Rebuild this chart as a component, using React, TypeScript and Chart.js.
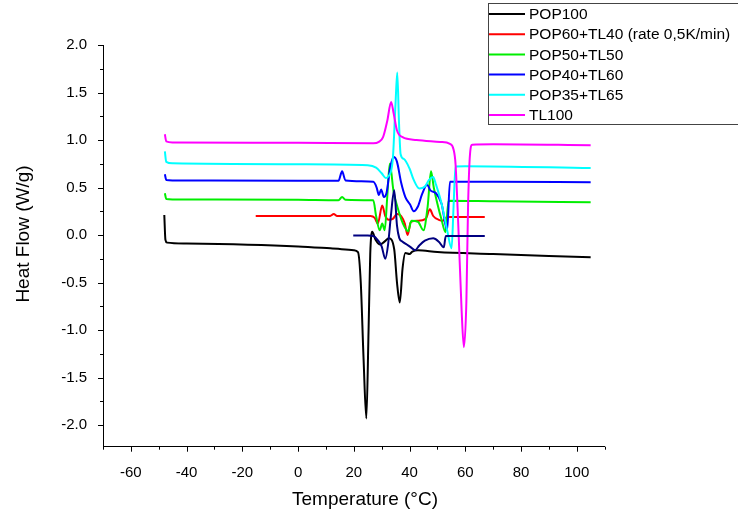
import React, { useEffect, useRef } from "react";
import { Chart, registerables } from "chart.js";

Chart.register(...registerables);

// ---- Data (temperature °C, heat flow W/g) ----
const POP100: [number, number][] = [
  [-48, 0.21], [-47.6, -0.05], [-47, -0.08], [-40, -0.09], [0, -0.12], [11.6, -0.14],
  [20, -0.16], [21.5, -0.18], [22.5, -0.5], [23.5, -1.3], [24.5, -1.93], [25.3, -1.0],
  [25.9, -0.2], [26.6, 0.035], [27.8, -0.05], [29.5, -0.1], [31, -0.07], [32.6, -0.035],
  [34.5, -0.15], [35.5, -0.5], [36.5, -0.71], [37.5, -0.35], [38.5, -0.19], [40, -0.2],
  [41, -0.175], [43, -0.16], [50, -0.18], [70, -0.2], [90, -0.22], [105, -0.235],
];
const POP60_TL40: [number, number][] = [
  [-15.2, 0.2], [0, 0.2], [11.5, 0.2], [12.8, 0.22], [14, 0.2], [26, 0.2], [27.5, 0.18],
  [28.6, 0.12], [30.2, 0.31], [31.3, 0.2], [32.5, 0.16], [34, 0.17], [35.5, 0.22], [37, 0.2],
  [38.3, 0.12], [39.3, 0.0], [40.5, 0.14], [43, 0.15], [45.8, 0.17], [47.3, 0.27], [48.5, 0.2],
  [50.5, 0.16], [52, 0.15], [53.5, 0.19], [67, 0.19],
];
const POP50_TL50: [number, number][] = [
  [-47.8, 0.44], [-47.3, 0.38], [-45, 0.375], [0, 0.37], [14.5, 0.365], [15.8, 0.4], [17, 0.37],
  [27, 0.365], [28, 0.2], [29.3, 0.05], [30.2, 0.12], [31.1, 0.05], [32, 0.4], [32.9, 0.75],
  [34.3, 0.45], [35.6, 0.3], [37.5, 0.13], [39.5, 0.04], [40.7, 0.15], [43, 0.14], [45, 0.05],
  [46.5, 0.3], [47.7, 0.67], [48.7, 0.5], [50, 0.33], [51.5, 0.16], [52.9, 0.03], [54, 0.36],
  [70, 0.355], [105, 0.345],
];
const POP40_TL60: [number, number][] = [
  [-47.8, 0.64], [-47.3, 0.58], [-45, 0.575], [0, 0.57], [14.5, 0.57], [15.8, 0.67], [17, 0.575],
  [27, 0.56], [28.2, 0.5], [29, 0.42], [29.8, 0.48], [30.8, 0.4], [31.8, 0.45], [33, 0.7],
  [34.3, 0.82], [35.5, 0.77], [37, 0.55], [38.5, 0.4], [40.2, 0.32], [41.5, 0.25], [43, 0.3],
  [44.5, 0.43], [46.3, 0.53], [47.5, 0.47], [49.5, 0.44], [51.5, 0.33], [53.5, 0.05], [54.5, 0.56],
  [70, 0.56], [105, 0.555],
];
const POP35_TL65: [number, number][] = [
  [-47.8, 0.88], [-47.3, 0.77], [-45, 0.755], [0, 0.745], [25, 0.735], [28, 0.71], [30, 0.65],
  [31.5, 0.6], [32.5, 0.62], [34, 0.8], [35, 1.4], [35.6, 1.71], [36.2, 1.2], [36.8, 0.85],
  [38, 0.8], [40, 0.7], [41.5, 0.58], [43.5, 0.49], [45.5, 0.51], [47, 0.58], [48.5, 0.61],
  [49.5, 0.53], [51.5, 0.33], [53.5, 0.05], [55.1, -0.14], [55.8, 0.3], [56.5, 0.72], [60, 0.725],
  [105, 0.705],
];
const TL100: [number, number][] = [
  [-47.8, 1.06], [-47.3, 0.985], [-45, 0.975], [0, 0.97], [27, 0.965], [29, 0.98], [30.5, 1.03],
  [32, 1.2], [33.4, 1.4], [34.3, 1.28], [35.5, 1.1], [37.5, 1.03], [42.5, 1.0], [51, 0.98],
  [54.5, 0.96], [55.8, 0.9], [56.5, 0.75], [57.5, 0.1], [58.7, -0.8], [59.5, -1.18], [60.4, -0.7],
  [61, 0.3], [61.7, 0.85], [62.5, 0.95], [70, 0.955], [105, 0.945],
];
const EXTRA_NAVY: [number, number][] = [
  [19.8, -0.005], [25, -0.005], [27, -0.01], [28.5, -0.05], [30, -0.12], [31.3, -0.25],
  [32.3, -0.1], [33.3, 0.2], [34.5, 0.47], [35.5, 0.1], [36.3, -0.03], [37.5, -0.07], [39, -0.1],
  [40.5, -0.13], [42, -0.16], [43.5, -0.11], [45.5, -0.06], [48.5, -0.035], [50.5, -0.07],
  [52.3, -0.13], [53, -0.01], [67, -0.01],
];

const SERIES = [POP100, POP60_TL40, POP50_TL50, POP40_TL60, POP35_TL65, TL100];
const SERIES_NAMES = [
  "POP100",
  "POP60+TL40 (rate 0,5K/min)",
  "POP50+TL50",
  "POP40+TL60",
  "POP35+TL65",
  "TL100",
];
const SERIES_COLORS = ["#000000", "#ff0000", "#00ee00", "#0000ff", "#00ffff", "#ff00ff"];
const EXTRA_COLOR = "#000080";

const X_MAJOR = [-60, -40, -20, 0, 20, 40, 60, 80, 100];
const X_MINOR = [-70, -50, -30, -10, 10, 30, 50, 70, 90, 110];
const Y_MAJOR = [-2.0, -1.5, -1.0, -0.5, 0.0, 0.5, 1.0, 1.5, 2.0];
const Y_MINOR = [-1.75, -1.25, -0.75, -0.25, 0.25, 0.75, 1.25, 1.75];

const X_TITLE = "Temperature (°C)";
const Y_TITLE = "Heat Flow (W/g)";

const FONT = "'Liberation Sans', Arial, sans-serif";

export default function App() {
  const ref = useRef<HTMLCanvasElement | null>(null);

  useEffect(() => {
    const canvas = ref.current;
    if (!canvas) return;

    const decor = {
      id: "decor",
      afterDraw(chart: any) {
        const ctx = chart.ctx as CanvasRenderingContext2D;
        const xs = chart.scales.x;
        const ys = chart.scales.y;
        const area = chart.chartArea;
        ctx.save();
        ctx.strokeStyle = "#000";
        ctx.lineWidth = 1;
        // ticks
        const drawX = (vals: number[], len: number) => {
          vals.forEach((v) => {
            const px = Math.round(xs.getPixelForValue(v)) + 0.5;
            ctx.beginPath();
            ctx.moveTo(px, area.bottom);
            ctx.lineTo(px, area.bottom + len);
            ctx.stroke();
          });
        };
        const drawY = (vals: number[], len: number) => {
          vals.forEach((v) => {
            const py = Math.round(ys.getPixelForValue(v)) + 0.5;
            ctx.beginPath();
            ctx.moveTo(area.left, py);
            ctx.lineTo(area.left - len, py);
            ctx.stroke();
          });
        };
        drawX(X_MAJOR, 5);
        drawX(X_MINOR, 3);
        drawY(Y_MAJOR, 5);
        drawY(Y_MINOR, 3);

        // axis titles
        ctx.fillStyle = "#000";
        ctx.font = `19px ${FONT}`;
        ctx.textAlign = "center";
        ctx.textBaseline = "middle";
        ctx.fillText(X_TITLE, 365, 500);
        ctx.save();
        ctx.translate(24, 234);
        ctx.rotate(-Math.PI / 2);
        ctx.fillText(Y_TITLE, 0, 0);
        ctx.restore();

        // legend
        const lx = 488.5;
        const ly = 3.5;
        ctx.strokeStyle = "#444";
        ctx.lineWidth = 1;
        ctx.strokeRect(lx, ly, 270, 121);
        ctx.font = `15.5px ${FONT}`;
        ctx.textAlign = "left";
        SERIES_NAMES.forEach((name, i) => {
          const y = 14 + i * 20.2;
          ctx.strokeStyle = SERIES_COLORS[i];
          ctx.lineWidth = 2;
          ctx.beginPath();
          ctx.moveTo(489, y);
          ctx.lineTo(525, y);
          ctx.stroke();
          ctx.fillStyle = "#000";
          ctx.fillText(name, 529, y + 1);
        });
        ctx.restore();
      },
    };

    const mk = (arr: [number, number][], color: string, label: string) => ({
      label,
      data: arr.map(([x, y]) => ({ x, y })),
      borderColor: color,
      backgroundColor: color,
      borderWidth: 2,
      pointRadius: 0,
      showLine: true,
      cubicInterpolationMode: "monotone" as const,
    });

    const datasets = [
      mk(EXTRA_NAVY, EXTRA_COLOR, ""),
      ...SERIES.map((s, i) => mk(s, SERIES_COLORS[i], SERIES_NAMES[i])).reverse(),
    ];

    const chart = new Chart(canvas, {
      type: "scatter",
      data: { datasets },
      options: {
        animation: false,
        responsive: false,
        events: [],
        layout: { padding: { left: 0, right: 133.4, top: 45, bottom: 0 } },
        plugins: { legend: { display: false }, tooltip: { enabled: false } },
        scales: {
          x: {
            type: "linear",
            min: -70,
            max: 110,
            afterBuildTicks: (s: any) => {
              s.ticks = X_MAJOR.map((v) => ({ value: v }));
            },
            afterFit: (s: any) => {
              s.height = 71.3;
            },
            grid: { display: false },
            border: { display: true, color: "#000", width: 1 },
            ticks: {
              autoSkip: false,
              maxRotation: 0,
              padding: 9,
              color: "#000",
              font: { family: FONT, size: 15 },
              callback: (v: any) => String(v),
            },
          },
          y: {
            type: "linear",
            min: -2.228,
            max: 2.0,
            afterBuildTicks: (s: any) => {
              s.ticks = Y_MAJOR.map((v) => ({ value: v }));
            },
            afterFit: (s: any) => {
              s.width = 103;
            },
            grid: { display: false },
            border: { display: true, color: "#000", width: 1 },
            ticks: {
              autoSkip: false,
              padding: 8,
              color: "#000",
              font: { family: FONT, size: 15 },
              callback: (v: any) => Number(v).toFixed(1),
            },
          },
        },
      },
      plugins: [decor],
    });

    return () => chart.destroy();
  }, []);

  return (
    <div style={{ position: "absolute", left: 0, top: 0, width: 738, height: 518, background: "#fff" }}>
      <canvas ref={ref} width={738} height={518} style={{ display: "block" }} />
    </div>
  );
}
